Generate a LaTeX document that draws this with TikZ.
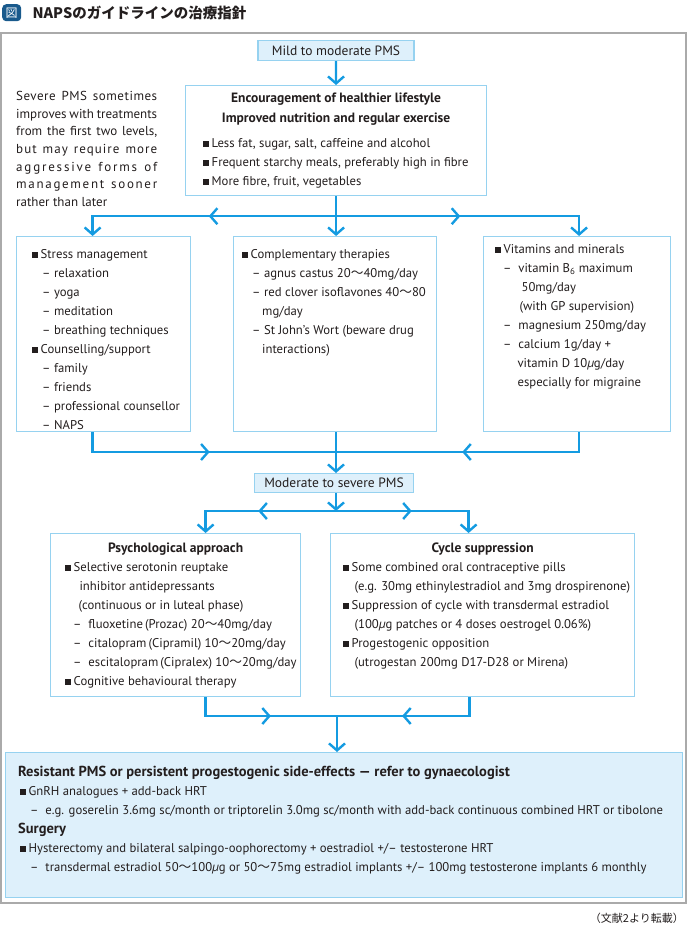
\documentclass[tikz,border=0pt]{standalone}
\usepackage{fontspec}
\setmainfont{PT Sans}
\newfontfamily\jp{Noto Sans CJK JP}
\usepackage{xcolor}
\definecolor{azulSeta}{RGB}{20,155,225}
\definecolor{bordaAzul}{RGB}{150,210,240}
\definecolor{fundoAzul}{RGB}{222,240,251}
\definecolor{azulIcone}{RGB}{25,90,140}
\definecolor{tinta}{RGB}{35,30,30}
\definecolor{cinzaMoldura}{RGB}{170,170,170}
\usepackage{tikz}
\usetikzlibrary{arrows.meta,positioning,calc,decorations.markings}
\newcommand{\qdr}{\raisebox{.4pt}{\rule{6pt}{6pt}}\hspace{2.5pt}}
\newcommand{\trc}[1][10pt]{\hspace*{#1}\textendash\hspace{3.5pt}}
\newcommand{\recuo}[1][20pt]{\hspace*{#1}}
\newcommand{\onda}{{\jp 〜}}
\newcommand{\esp}[2]{{\addfontfeature{LetterSpace=#1}#2}}
\tikzset{
  nivel/.style={rectangle, draw=bordaAzul, fill=fundoAzul, line width=1.2pt,
                inner sep=0pt, font=\fontsize{13.5}{19}\selectfont, text=tinta},
  bloco/.style={rectangle, draw=bordaAzul, fill=white, line width=1.2pt,
                inner sep=0pt, anchor=north west},
  texto/.style={inner sep=0pt, anchor=north west, align=left,
                font=\fontsize{12.7}{19}\selectfont, text=tinta},
  titulo/.style={inner sep=0pt, anchor=north, align=center,
                 font=\fontsize{13.5}{20}\selectfont\bfseries, text=tinta},
  linha/.style={line width=2.4pt, color=azulSeta},
  seta/.style={linha, -{Straight Barb[length=7pt,width=16pt]}},
  meia/.style={postaction={decorate}, decoration={markings,
               mark=at position #1 with {\arrow{Straight Barb[length=7pt,width=16pt]}}}},
}

\begin{document}
\begin{tikzpicture}[x=1pt,y=-1pt]
  \useasboundingbox (0,0) rectangle (687,930);
  \node[inner sep=0pt, fill=azulIcone, rounded corners=4pt, minimum width=19pt,
        minimum height=17pt, anchor=north west, text=white,
        font=\jp\fontsize{12}{12}\selectfont] (icone) at (2,4) {図};
  \node[right=11pt of icone, inner sep=0pt, text=tinta,
        font=\jp\bfseries\fontsize{14.5}{15}\selectfont] (cab) {NAPSのガイドラインの治療指針};
  \draw[cinzaMoldura, line width=1.2pt] (1,33) rectangle (686,903);

  \node[nivel, minimum width=156pt, minimum height=20pt, anchor=north] (leve) at (336,40) {Mild to moderate PMS};
  \node[bloco, minimum width=301pt, minimum height=110pt] (estilo) at (185,85) {};
  \node[titulo] (estilotit) at ([shift={(0,8)}]estilo.north) {Encouragement of healthier lifestyle\\Improved nutrition and regular exercise};
  \node[texto] (estilotxt) at ([shift={(18,53)}]estilo.north west) {\qdr Less fat, sugar, salt, caffeine and alcohol\\
    \qdr Frequent starchy meals, preferably high in fibre\\
    \qdr More fibre, fruit, vegetables};
  \node[texto, text width=141pt, align=justify, font=\fontsize{13}{17.7}\selectfont] (nota) at (16,91)
    {\esp{4}{Severe PMS sometimes}\linebreak improves with treatments\linebreak from the first two levels,\linebreak
     \esp{8}{but may require more}\linebreak \esp{14}{aggressive forms of}\linebreak \esp{13}{management sooner}\linebreak rather than later};
  \draw[seta] (leve) -- (estilo);

  \node[bloco, minimum width=174pt, minimum height=195pt] (estresse) at (16,236) {};
  \node[bloco, minimum width=203pt, minimum height=195pt] (compl) at (233,236) {};
  \node[bloco, minimum width=187pt, minimum height=195pt] (vitam) at (483,236) {};
  \node[texto] (estressetxt) at ([shift={(16,13)}]estresse.north west) {\qdr Stress management\\
    \trc relaxation\\ \trc yoga\\ \trc meditation\\ \trc breathing techniques\\
    \qdr Counselling/support\\
    \trc family\\ \trc friends\\ \trc professional counsellor\\ \trc NAPS};
  \node[texto] (compltxt) at ([shift={(9,13)}]compl.north west) {\qdr Complementary therapies\\
    \trc agnus castus 20\onda 40mg/day\\
    \trc red clover isoflavones 40\onda 80\\ \recuo mg/day\\
    \trc St John's Wort (beware drug\\ \recuo interactions)};
  \node[texto] (vitamtxt) at ([shift={(12,8)}]vitam.north west) {\qdr Vitamins and minerals\\
    \trc[8pt] vitamin B\textsubscript{6} maximum\\ \recuo[23pt] 50mg/day\\ \recuo[21pt] (with GP supervision)\\
    \trc[8pt] magnesium 250mg/day\\ \trc[8pt] calcium 1g/day +\\
    \recuo[19pt] vitamin D 10{\itshape µ}g/day\\ \recuo[19pt] especially for migraine};

  \draw[seta, meia=0.52] (estilo.south) -- ++(0,20) -| ([xshift=-11pt]estresse.north);
  \draw[seta] (estilo.south) -- (estilo.south |- compl.north);
  \draw[seta, meia=0.51] (estilo.south) -- ++(0,20) -| ([xshift=2pt]vitam.north);

  \node[nivel, minimum width=159pt, minimum height=19pt, anchor=north] (moder) at (334,473) {Moderate to severe PMS};
  \coordinate (j1) at (336,452);
  \draw[linha, meia=0.52] ([xshift=-11pt]estresse.south) |- (j1);
  \draw[linha] (compl.south -| j1) -- (j1);
  \draw[linha, meia=0.52] ([xshift=2pt]vitam.south) |- (j1);
  \draw[seta] (j1) -- (j1 |- moder.north);

  \node[bloco, minimum width=250pt, minimum height=163pt] (psico) at (50,533) {};
  \node[bloco, minimum width=304pt, minimum height=163pt] (ciclo) at (330,533) {};
  \node[titulo] (psicotit) at ([shift={(0,10)}]psico.north) {Psychological approach};
  \node[titulo] (ciclotit) at ([shift={(0,10)}]ciclo.north) {Cycle suppression};
  \node[texto] (psicotxt) at ([shift={(15,29)}]psico.north west) {\qdr Selective serotonin reuptake\\
    \recuo[11pt] inhibitor antidepressants\\ \recuo[10pt] (continuous or in luteal phase)\\
    \trc[8pt] fluoxetine\,(Prozac) 20\onda 40mg/day\\
    \trc[8pt] citalopram\,(Cipramil) 10\onda 20mg/day\\
    \trc[8pt] escitalopram\,(Cipralex) 10\onda 20mg/day\\
    \qdr Cognitive behavioural therapy};
  \node[texto] (ciclotxt) at ([shift={(13,29)}]ciclo.north west) {\qdr Some combined oral contraceptive pills\\
    \recuo[8pt] (e.g. 30mg ethinylestradiol and 3mg drospirenone)\\
    \qdr Suppression of cycle with transdermal estradiol\\
    \recuo[8pt] (100{\itshape µ}g patches or 4 doses oestrogel 0.06\%)\\
    \qdr Progestogenic opposition\\
    \recuo[8pt] (utrogestan 200mg D17-D28 or Mirena)};

  \coordinate (j2) at (336,511);
  \draw[seta] (moder.south -| j2) -- (j2);
  \draw[seta, meia=0.51] (j2) -| ([xshift=30pt]psico.north);
  \draw[seta, meia=0.49] (j2) -| ([xshift=-14pt]ciclo.north);

  \node[nivel, minimum width=677pt, minimum height=145pt, anchor=north west] (final) at (5,752) {};
  \node[texto] (finaltxt) at ([shift={(13,14)}]final.north west) {{\bfseries\fontsize{14.5}{19}\selectfont Resistant PMS or persistent progestogenic side-effects --- refer to gynaecologist}\\
    \recuo[2pt]\qdr GnRH analogues + add-back HRT\\
    \trc[12pt] e.g. goserelin 3.6mg sc/month or triptorelin 3.0mg sc/month with add-back continuous combined HRT or tibolone\\
    {\bfseries\fontsize{14.5}{19}\selectfont Surgery}\\
    \recuo[2pt]\qdr Hysterectomy and bilateral salpingo-oophorectomy + oestradiol +/\textendash{} testosterone HRT\\
    \trc[12pt] transdermal estradiol 50\onda 100{\itshape µ}g or 50\onda 75mg estradiol implants +/\textendash{} 100mg testosterone implants 6 monthly};

  \coordinate (j3) at (337,716);
  \draw[linha, meia=0.56] ([xshift=30pt]psico.south) |- (j3);
  \draw[linha, meia=0.57] ([xshift=-13pt]ciclo.south) |- (j3);
  \draw[seta] (j3) -- (j3 |- final.north);

  \node[anchor=base east, inner sep=0pt, text=tinta, font=\jp\fontsize{11}{12}\selectfont] (fonte) at (684,922) {（文献2より転載）};
\end{tikzpicture}
\end{document}
